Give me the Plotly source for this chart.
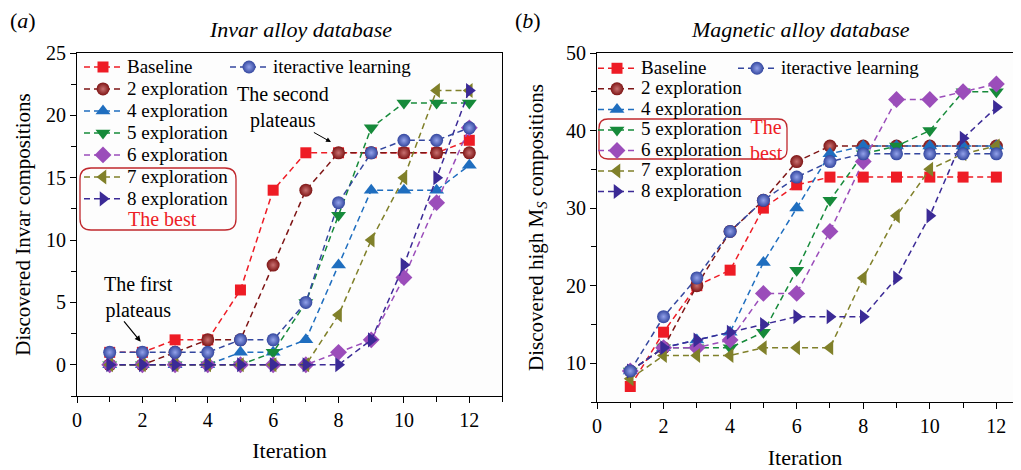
import plotly.graph_objects as go

iterations = list(range(1, 13))
series_names = ["Baseline", "2 exploration", "4 exploration", "5 exploration",
                "6 exploration", "7 exploration", "8 exploration"]
iter_name = "iteractive learning"

# (a) Invar alloy database
invar_baseline = [1, 1, 2, 2, 6, 14, 17, 17, 17, 17, 17, 18]
invar_exp2 = [0, 0, 1, 2, 2, 8, 14, 17, 17, 17, 17, 17]
invar_exp4 = [0, 0, 0, 0, 1, 1, 2, 8, 14, 14, 14, 16]
invar_exp5 = [0, 0, 0, 0, 0, 1, 5, 12, 19, 21, 21, 21]
invar_exp6 = [0, 0, 0, 0, 0, 0, 0, 1, 2, 7, 13, 19]
invar_exp7 = [0, 0, 0, 0, 0, 0, 0, 4, 10, 15, 22, 22]
invar_exp8 = [0, 0, 0, 0, 0, 0, 0, 0, 2, 8, 15, 22]
invar_iter = [1, 1, 1, 1, 2, 2, 5, 13, 17, 18, 18, 19]

# (b) Magnetic alloy database
mag_baseline = [7, 14, 20, 22, 30, 33, 34, 34, 34, 34, 34, 34]
mag_exp2 = [9, 12, 20, 27, 31, 36, 38, 38, 38, 38, 38, 38]
mag_exp4 = [9, 12, 13, 14, 23, 30, 37, 38, 38, 38, 38, 38]
mag_exp5 = [9, 12, 12, 12, 14, 22, 31, 37, 38, 40, 45, 45]
mag_exp6 = [9, 12, 12, 13, 19, 19, 27, 36, 44, 44, 45, 46]
mag_exp7 = [8, 11, 11, 11, 12, 12, 12, 21, 29, 35, 37, 38]
mag_exp8 = [9, 12, 13, 14, 15, 16, 16, 16, 21, 29, 39, 43]
mag_iter = [9, 16, 21, 27, 31, 34, 36, 37, 37, 37, 37, 37]

invar_series = [invar_baseline, invar_exp2, invar_exp4, invar_exp5, invar_exp6, invar_exp7, invar_exp8]
mag_series = [mag_baseline, mag_exp2, mag_exp4, mag_exp5, mag_exp6, mag_exp7, mag_exp8]

FONT = "Liberation Serif, Times New Roman, serif"
styles = [
    dict(color="#EE1C25", symbol="square", size=11, grad=None),
    dict(color="#7E1515", symbol="circle", size=13, grad="#C87070"),
    dict(color="#1F6EBF", symbol="triangle-up", size=13, grad=None),
    dict(color="#168A3A", symbol="triangle-down", size=13, grad=None),
    dict(color="#9B4DBA", symbol="diamond", size=13, grad=None),
    dict(color="#80802A", symbol="triangle-left", size=13, grad=None),
    dict(color="#3B2A96", symbol="triangle-right", size=13, grad=None),
]
iter_style = dict(color="#34479F", symbol="circle", size=13, grad="#93A2EA")

LEG_TXT = 19


def add(fig, y, name, st, xa, ya, legend):
    marker = dict(symbol=st["symbol"], size=st["size"], color=st["color"],
                  line=dict(width=0))
    if st["grad"]:
        marker["gradient"] = dict(type="radial", color=st["grad"])
    fig.add_trace(go.Scatter(
        x=iterations, y=y,
        name=f'<span style="font-size:{LEG_TXT}px">{name}</span>',
        mode="lines+markers",
        line=dict(color=st["color"], width=1.5, dash="6px,4px"),
        marker=marker, xaxis=xa, yaxis=ya, legend=legend))


fig = go.Figure()
for name, y, st in zip(series_names, invar_series, styles):
    add(fig, y, name, st, "x", "y", "legend")
add(fig, invar_iter, iter_name, iter_style, "x", "y", "legend2")
for name, y, st in zip(series_names, mag_series, styles):
    add(fig, y, name, st, "x2", "y2", "legend3")
add(fig, mag_iter, iter_name, iter_style, "x2", "y2", "legend4")

axis_common = dict(showline=True, mirror=True, linecolor="black", linewidth=1.2,
                   showgrid=False, zeroline=False, ticks="outside", ticklen=6,
                   tickcolor="black", automargin=False,
                   tickfont=dict(family=FONT, size=20, color="black"))

# the page body adds an 8px offset; work in reference-picture pixels
OFF = 8
W, H = 1021 - OFF, 470 - OFF
PL, PR, PT, PB = 77, 1013, 53, 402          # plot area in reference pixels
L, R, T, B = PL - OFF, (1021 - PR), PT - OFF, 470 - PB
PW, PH = PR - PL, PB - PT


def px(xp):
    return (xp - PL) / PW


def py(yp):
    return (PB - yp) / PH


def leg(x, y, size):
    return dict(x=x, y=y, xanchor="left", yanchor="top", bgcolor="rgba(0,0,0,0)",
                font=dict(family=FONT, size=size, color="black"),
                tracegroupgap=0, itemwidth=38, borderwidth=0)


TITLE_F = dict(family=FONT, size=22, color="black")
fig.update_layout(
    width=W, height=H,
    margin=dict(l=L, r=R, t=T, b=B, autoexpand=False),
    paper_bgcolor="white", plot_bgcolor="#FDFDFD",
    font=dict(family=FONT, color="black"),
    xaxis=dict(domain=[0, px(502)], range=[0, 13], dtick=2, tick0=0,
               minor=dict(dtick=1, ticks="outside", ticklen=5, tickcolor="black"),
               title=dict(text="Iteration", font=TITLE_F, standoff=12),
               anchor="y", **axis_common),
    yaxis=dict(domain=[py(396), 1], range=[-2.5, 25], dtick=5, tick0=0,
               minor=dict(dtick=2.5, ticks="outside", ticklen=5, tickcolor="black"),
               title=dict(text="Discovered Invar compositions", font=dict(family=FONT, size=21), standoff=9),
               anchor="x", **axis_common),
    xaxis2=dict(domain=[px(597), 1], range=[0, 12.5], dtick=2, tick0=0,
                minor=dict(dtick=1, ticks="outside", ticklen=5, tickcolor="black"),
                title=dict(text="Iteration", font=TITLE_F, standoff=14),
                anchor="y2", **axis_common),
    yaxis2=dict(domain=[0, 1], range=[5, 50], dtick=10, tick0=0,
                minor=dict(dtick=5, ticks="outside", ticklen=5, tickcolor="black"),
                title=dict(text="Discovered high M<sub><i>S</i></sub> compositions",
                           font=dict(family=FONT, size=21), standoff=16),
                anchor="x2", **axis_common),
    legend=leg(px(79), py(51), 14.6),
    legend2=leg(px(225), py(51), 14.6),
    legend3=leg(px(593), py(53), 13.5),
    legend4=leg(px(733), py(53), 13.5),
)


def rounded_rect(x0, y0, x1, y1, r):
    rx, ry = r / PW, r / PH
    X0, X1 = px(x0), px(x1)
    Yt, Yb = py(y0), py(y1)
    return (f"M {X0+rx},{Yt} L {X1-rx},{Yt} Q {X1},{Yt} {X1},{Yt-ry} "
            f"L {X1},{Yb+ry} Q {X1},{Yb} {X1-rx},{Yb} L {X0+rx},{Yb} "
            f"Q {X0},{Yb} {X0},{Yb+ry} L {X0},{Yt-ry} Q {X0},{Yt} {X0+rx},{Yt} Z")


fig.add_shape(type="path", xref="paper", yref="paper",
              path=rounded_rect(80, 168, 236, 230, 11),
              line=dict(color="#C0282D", width=1.3))
fig.add_shape(type="path", xref="paper", yref="paper",
              path=rounded_rect(599, 119, 787, 159, 9),
              line=dict(color="#C0282D", width=1.3))

RED_F = dict(family=FONT, size=20, color="#EE1C25")


def note(xp, yp, text, font):
    return dict(xref="paper", yref="paper", x=px(xp), y=py(yp), text=text,
                xanchor="center", yanchor="middle", showarrow=False, font=font)


ann = [
    note(162, 219, "The best", RED_F),
    note(766, 140, "The<br>best", RED_F),
    note(23, 21, "(<i>a</i>)", TITLE_F),
    note(528, 21, "(<i>b</i>)", TITLE_F),
    note(300, 30, "<i>Invar alloy database</i>", TITLE_F),
    note(800, 30, "<i>Magnetic alloy database</i>", TITLE_F),
    dict(xref="x", yref="y", x=6.3, y=20.6, text="The second<br>plateaus",
         xanchor="center", yanchor="middle",
         showarrow=False, font=dict(family=FONT, size=20)),
    dict(xref="x", yref="y", x=7.77, y=17.86, ax=7.2, ay=18.7, axref="x", ayref="y",
         text="", showarrow=True, arrowhead=2, arrowsize=1, arrowwidth=1, arrowcolor="black"),
    dict(xref="x", yref="y", x=1.87, y=5.4, text="The first<br>plateaus",
         xanchor="center", yanchor="middle",
         showarrow=False, font=dict(family=FONT, size=20)),
    dict(xref="x", yref="y", x=1.95, y=1.85, ax=1.4, ay=3.6, axref="x", ayref="y",
         text="", showarrow=True, arrowhead=2, arrowsize=1, arrowwidth=1.2, arrowcolor="black"),
]
fig.update_layout(annotations=ann)

fig.write_html("out.html")
